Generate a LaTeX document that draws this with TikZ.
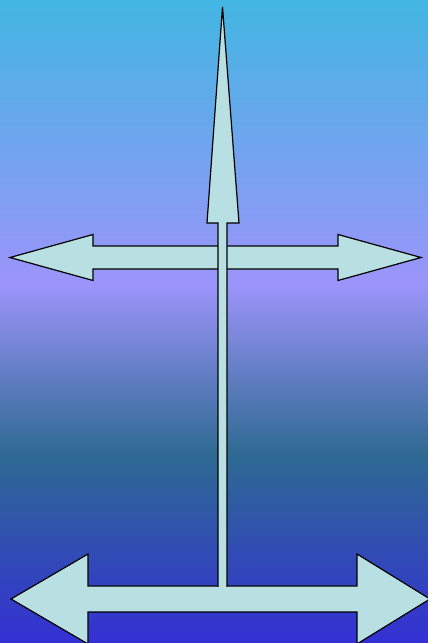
\documentclass[tikz,border=0pt]{standalone}
\usetikzlibrary{calc}
\definecolor{cSky}{HTML}{42B6E2}
\definecolor{cLilac}{HTML}{9C94FA}
\definecolor{cTeal}{HTML}{2E6A92}
\definecolor{cDeep}{HTML}{3430D4}
\definecolor{cArrow}{HTML}{B8E0E2}
\tikzset{
  arrowshape/.style={draw=black, fill=cArrow, line width=1.2pt, line join=miter},
  arrowfill/.style={fill=cArrow},
  arrowedge/.style={draw=black, line width=1.2pt},
}

\begin{document}
\begin{tikzpicture}[x=1pt, y=1pt]
  % Background bands
  \useasboundingbox (0,0) rectangle (428,643);
  \shade[top color=cSky, bottom color=cLilac] (0,643) rectangle (428,358);
  \shade[top color=cLilac, bottom color=cTeal] (0,358.5) rectangle (428,188);
  \shade[top color=cTeal, bottom color=cDeep] (0,188.5) rectangle (428,0);

  % Bottom double arrow
  \draw[arrowshape] (11,44) -- (88,89) -- (88,57) -- (357,57) -- (357,89)
    -- (430,44) -- (357,-1) -- (357,31) -- (88,31) -- (88,-1) -- cycle;

  % Middle double arrow
  \draw[arrowshape] (10,385.5) -- (93,408.5) -- (93,397) -- (338,397) -- (338,408.5)
    -- (421,385.5) -- (338,362.5) -- (338,374) -- (93,374) -- (93,362.5) -- cycle;

  % Upright arrow, open at its foot
  \coordinate (foot-l) at (218,54);
  \coordinate (foot-r) at (227,54);
  \coordinate (tip) at (222.5,636);
  \fill[arrowfill] (foot-l) -- (218,420) -- (207,420) -- (tip) -- (239,420)
    -- (227,420) -- (foot-r) -- cycle;
  \draw[arrowedge] ($(foot-l)+(0,2)$) -- (218,420) -- (207,420) -- (tip) -- (239,420)
    -- (227,420) -- ($(foot-r)+(0,2)$);
\end{tikzpicture}
\end{document}
